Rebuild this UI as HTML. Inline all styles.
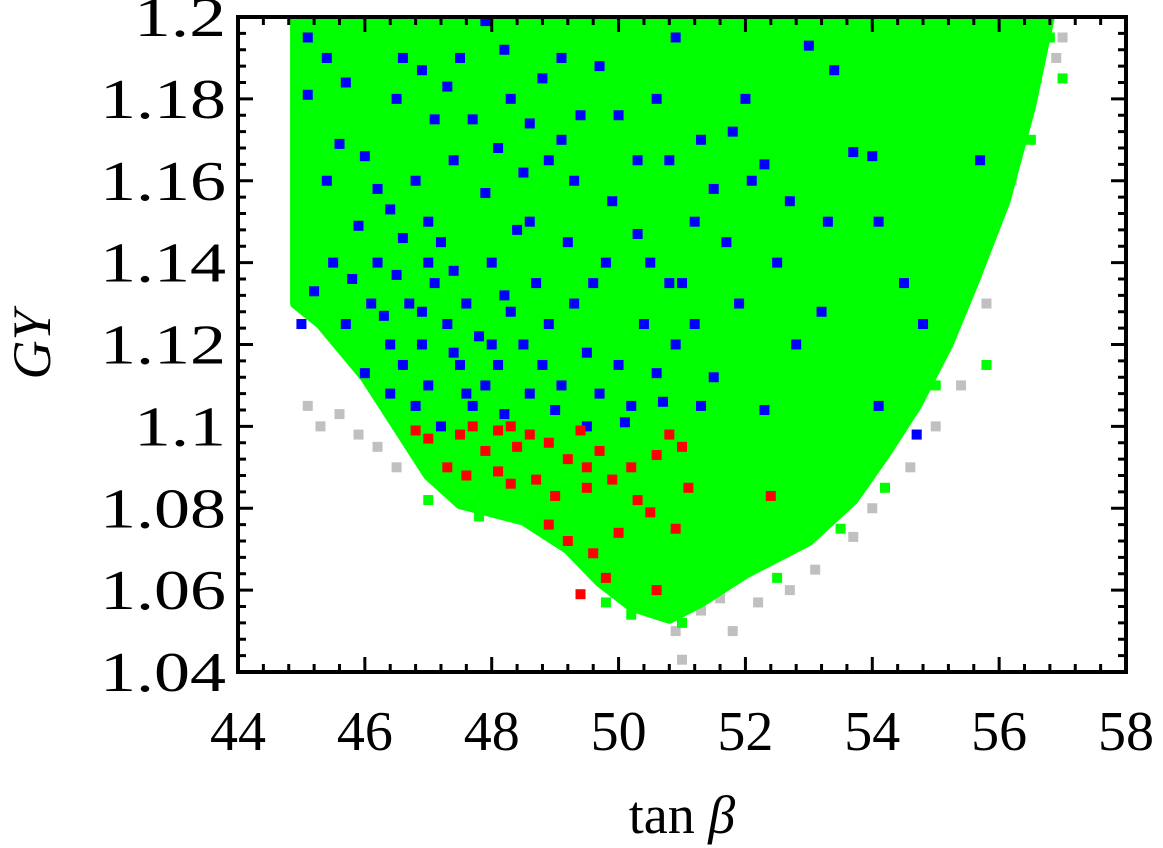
<!DOCTYPE html>
<html><head><meta charset="utf-8"><style>
html,body{margin:0;padding:0;background:#fff;width:1163px;height:848px;overflow:hidden}
svg text{font-family:"Liberation Serif",serif;fill:#000}
</style></head><body>
<svg id="chart" width="1163" height="848" viewBox="0 0 1163 848" xmlns="http://www.w3.org/2000/svg">
<defs><clipPath id="clip"><rect x="238" y="17" width="888" height="655"/></clipPath></defs>
<g id="plot" clip-path="url(#clip)"></g>
<g id="axes"></g>
<text x="682" y="833" font-size="54" text-anchor="middle">tan <tspan font-style="italic">β</tspan></text>
<text transform="translate(50,345) rotate(-90)" font-size="54" font-style="italic" text-anchor="middle">GY</text>
</svg>
<script>
const xTicks=[44,46,48,50,52,54,56,58];
const yTicks=[1.04,1.06,1.08,1.1,1.12,1.14,1.16,1.18,1.2];
const yTickLabels=["1.04","1.06","1.08","1.1","1.12","1.14","1.16","1.18","1.2"];
const greenBoundary=[[44.9,1.2],[44.9,1.13],[45.3,1.125],[46,1.112],[46.5,1.1],[47,1.088],[47.5,1.081],[48.5,1.077],[49.2,1.07],[49.7,1.062],[50.2,1.056],[50.8,1.053],[51.3,1.057],[52,1.064],[53,1.072],[53.7,1.082],[54.2,1.093],[54.7,1.105],[55.2,1.12],[55.6,1.135],[56.1,1.155],[56.5,1.178],[56.8,1.2]];
const grayPts=[[45.1,1.105],[45.3,1.1],[45.6,1.103],[45.9,1.098],[46.2,1.095],[46.5,1.09],[45.2,1.13],[45.5,1.125],[50.3,1.057],[50.9,1.05],[51.3,1.055],[51.8,1.05],[51,1.043],[52.2,1.057],[53.1,1.065],[53.7,1.073],[54,1.08],[54.6,1.09],[55,1.1],[55.4,1.11],[55.8,1.13],[56.2,1.16],[56.6,1.185],[57,1.195],[56.9,1.19],[51.6,1.058],[52.7,1.06]];
const greenPts=[[55.7,1.14],[55.3,1.13],[56.5,1.17],[57,1.185],[55.8,1.115],[54.7,1.098],[55,1.11],[51,1.052],[50.5,1.055],[49.8,1.057],[50.2,1.054],[51.5,1.06],[52.5,1.063],[53.5,1.075],[54.2,1.085],[56.8,1.195],[47,1.082],[47.8,1.078]];
const bluePts=[[45.1,1.195],[45.1,1.181],[45.4,1.19],[45.7,1.184],[45.6,1.169],[46,1.166],[46.2,1.158],[46.4,1.153],[46.5,1.18],[46.6,1.19],[46.9,1.187],[47.1,1.175],[47.3,1.183],[47.5,1.19],[47.9,1.199],[48.2,1.192],[48.3,1.18],[48.6,1.174],[48.8,1.185],[49.1,1.19],[49.4,1.176],[49.7,1.188],[50,1.176],[50.3,1.165],[50.6,1.18],[50.9,1.195],[51.3,1.17],[51.8,1.172],[52.3,1.164],[53,1.193],[53.4,1.187],[53.7,1.167],[54,1.166],[54.1,1.15],[53.3,1.15],[52.7,1.155],[52.1,1.16],[51.7,1.145],[51.2,1.15],[50.8,1.135],[50.3,1.147],[49.9,1.155],[49.3,1.16],[48.9,1.165],[48.5,1.162],[47.9,1.157],[47.4,1.165],[47,1.15],[46.6,1.146],[46.2,1.14],[45.8,1.136],[45.5,1.14],[45.2,1.133],[45.0,1.125],[45.7,1.125],[46.1,1.13],[46.4,1.12],[46.7,1.13],[46.9,1.12],[47.1,1.135],[47.3,1.125],[47.5,1.115],[47.6,1.13],[47.8,1.122],[48,1.14],[48.1,1.115],[48.3,1.128],[48.5,1.12],[48.7,1.135],[48.9,1.125],[49.1,1.11],[49.3,1.13],[49.5,1.118],[49.8,1.14],[50,1.115],[50.2,1.105],[50.4,1.125],[50.6,1.113],[50.9,1.12],[51.2,1.125],[51.5,1.112],[51.9,1.13],[52.3,1.104],[52.8,1.12],[53.2,1.128],[54.5,1.135],[54.8,1.125],[54.7,1.098],[54.1,1.105],[55.7,1.165],[46.4,1.108],[46.8,1.105],[47.2,1.1],[47.7,1.105],[48.2,1.103],[48.6,1.108],[49.0,1.104],[49.5,1.1],[50.1,1.101],[50.7,1.106],[51.3,1.105],[46,1.113],[47,1.11],[47.9,1.11],[48.8,1.115],[49.7,1.108],[51,1.135],[50.5,1.14],[49.2,1.145],[48.4,1.148],[47.2,1.145],[46.5,1.137],[46.3,1.127],[47.4,1.138],[48.6,1.15],[49.6,1.135],[50.8,1.165],[51.5,1.158],[52.5,1.14],[46.8,1.16],[47.7,1.175],[48.1,1.168],[49.1,1.17],[45.9,1.149],[45.4,1.16],[52,1.18],[46.9,1.128],[47.4,1.118],[48.2,1.132],[47.0,1.14],[46.6,1.115],[48.0,1.12],[47.6,1.108]];
const redPts=[[46.8,1.099],[47.0,1.097],[47.3,1.09],[47.5,1.098],[47.7,1.1],[47.9,1.094],[48.1,1.099],[48.3,1.086],[48.4,1.095],[48.6,1.098],[48.7,1.087],[48.9,1.096],[49.0,1.083],[49.2,1.092],[49.4,1.099],[49.5,1.085],[49.7,1.094],[49.9,1.087],[50.0,1.074],[50.2,1.09],[50.3,1.082],[50.5,1.079],[50.9,1.075],[51.1,1.085],[51.0,1.095],[50.8,1.098],[48.9,1.076],[49.2,1.072],[49.6,1.069],[49.8,1.063],[49.4,1.059],[50.6,1.06],[52.4,1.083],[48.1,1.089],[47.6,1.088],[49.5,1.09],[48.3,1.1],[50.6,1.093]];

const X0=238,X1=1126,Y0=672,Y1=17,XMIN=44,XMAX=58,YMIN=1.04,YMAX=1.2;
const sx=v=>X0+(v-XMIN)/(XMAX-XMIN)*(X1-X0);
const sy=v=>Y0-(v-YMIN)/(YMAX-YMIN)*(Y0-Y1);
const NS="http://www.w3.org/2000/svg";
const plot=document.getElementById('plot'),axes=document.getElementById('axes');
function mk(tag,attrs,parent){const e=document.createElementNS(NS,tag);for(const k in attrs)e.setAttribute(k,attrs[k]);parent.appendChild(e);return e;}
function pts(arr,color,name){
  const g=mk('g',{fill:color},plot);
  
  
  arr.forEach(p=>{const r=mk('rect',{x:sx(p[0])-5,y:sy(p[1])-5,width:10,height:10},g);
    
    });
}
pts(grayPts,'#c0c0c0','gray');
let d='';
greenBoundary.forEach((p,i)=>{d+=(i?'L':'M')+sx(p[0])+' '+sy(p[1]);});
d+='L'+sx(56.8)+' '+(Y1-10)+'L'+sx(44.9)+' '+(Y1-10)+'Z';
const area=mk('path',{d:d,fill:'#00ff00',stroke:'#00ff00','stroke-width':10,'stroke-linejoin':'round'},plot);


pts(greenPts,'#00ff00','green');
pts(bluePts,'#0000ff','blue');
pts(redPts,'#ff0000','red');
const fr=mk('rect',{x:X0,y:Y1,width:X1-X0,height:Y0-Y1,fill:'none',stroke:'#000','stroke-width':4},axes);


for(let i=0;i<xTicks.length;i++){
  const v=xTicks[i],x=sx(v);
  mk('line',{x1:x,y1:Y0,x2:x,y2:Y0-15,stroke:'#000','stroke-width':3},axes);
  mk('line',{x1:x,y1:Y1,x2:x,y2:Y1+15,stroke:'#000','stroke-width':3},axes);
  const t=mk('text',{x:x,y:Y0+78,'font-size':56,'text-anchor':'middle'},axes);t.textContent=v;
  
  
  if(i<xTicks.length-1)for(let k=1;k<5;k++){const xm=sx(v+k*0.4);
    mk('line',{x1:xm,y1:Y0,x2:xm,y2:Y0-8,stroke:'#000','stroke-width':3},axes);
    mk('line',{x1:xm,y1:Y1,x2:xm,y2:Y1+8,stroke:'#000','stroke-width':3},axes);}
}
for(let i=0;i<yTicks.length;i++){
  const v=yTicks[i],y=sy(v);
  mk('line',{x1:X0,y1:y,x2:X0+15,y2:y,stroke:'#000','stroke-width':3},axes);
  mk('line',{x1:X1,y1:y,x2:X1-15,y2:y,stroke:'#000','stroke-width':3},axes);
  const lab=yTickLabels[i];
  const w=lab.length===4?126:92;
  const t=mk('text',{x:226-w,y:y+19,'font-size':56,textLength:w,lengthAdjust:'spacingAndGlyphs'},axes);t.textContent=lab;
  
  
  if(i<yTicks.length-1)for(let k=1;k<5;k++){const ym=sy(v+k*0.004);
    mk('line',{x1:X0,y1:ym,x2:X0+8,y2:ym,stroke:'#000','stroke-width':3},axes);
    mk('line',{x1:X1,y1:ym,x2:X1-8,y2:ym,stroke:'#000','stroke-width':3},axes);}
}
</script>
</body></html>
